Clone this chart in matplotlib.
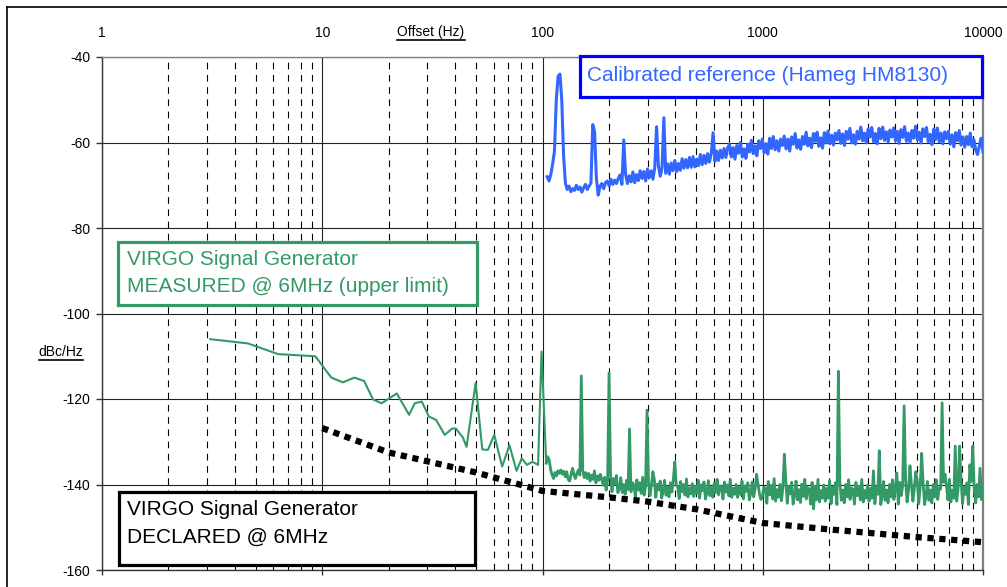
import numpy as np
import matplotlib
matplotlib.use("Agg")
import matplotlib.pyplot as plt
from matplotlib.lines import Line2D
from matplotlib.patches import Rectangle
from matplotlib.transforms import IdentityTransform

plt.rcParams['font.family'] = ['Liberation Sans', 'DejaVu Sans']

# ---- data ----
x_ticks = [1, 10, 100, 1000, 10000]
x_labels = ["1", "10", "100", "1000", "10000"]
y_ticks = [-160, -140, -120, -100, -80, -60, -40]
y_labels = ["-160", "-140", "-120", "-100", "-80", "-60", "-40"]

# calibrated reference (Hameg HM8130), 105 Hz .. 10 kHz on a log grid
blue_db = [
    -68.0, -69.0, -67.5, -65.0, -62.0, -50.0, -44.5, -44.0, -50.0, -63.0,
    -69.5, -71.0, -70.2, -71.5, -70.8, -71.2, -70.0, -71.0, -70.4, -71.6,
    -70.6, -69.8, -71.0, -70.2, -69.5, -55.8, -57.5, -68.5, -72.3, -70.2,
    -69.6, -70.8, -69.4, -69.0, -70.2, -68.6, -69.8, -68.8, -69.6, -68.4,
    -67.6, -69.8, -59.4, -67.4, -69.6, -67.8, -69.2, -66.9, -69.4, -67.5,
    -68.9, -66.6, -68.4, -66.8, -69.0, -66.2, -68.2, -66.6, -68.6, -65.9,
    -56.3, -65.4, -67.9, -66.0, -54.2, -67.2, -65.0, -67.4, -64.8, -66.6,
    -64.2, -66.8, -64.9, -66.5, -63.8, -66.0, -64.0, -65.9, -63.5, -65.8,
    -63.3, -65.7, -63.9, -65.4, -62.8, -65.2, -63.0, -64.9, -62.6, -64.6,
    -62.5, -57.7, -64.4, -62.0, -64.2, -61.8, -63.6, -61.4, -63.5, -61.2,
    -60.4, -63.4, -61.2, -63.9, -60.7, -62.5, -60.0, -63.4, -61.5, -63.7,
    -60.4, -62.2, -59.5, -62.6, -60.8, -63.1, -59.6, -61.4, -59.2, -62.4,
    -60.3, -62.7, -59.0, -61.4, -58.6, -61.7, -59.6, -62.0, -59.2, -60.7,
    -58.5, -61.5, -59.2, -62.0, -58.7, -60.4, -57.9, -61.3, -59.4, -61.6,
    -58.6, -60.4, -57.6, -60.8, -59.0, -61.2, -57.9, -59.7, -57.6, -60.9,
    -58.9, -61.3, -57.7, -60.1, -57.3, -60.3, -58.3, -60.6, -57.8, -59.4,
    -57.2, -60.2, -58.0, -60.7, -57.4, -59.2, -56.7, -60.1, -58.2, -60.4,
    -57.4, -59.2, -56.4, -59.6, -57.8, -60.1, -56.9, -58.7, -56.5, -59.8,
    -57.9, -60.3, -56.7, -59.1, -56.4, -59.5, -57.5, -59.9, -57.1, -58.7,
    -56.6, -59.6, -57.4, -60.2, -57.0, -58.8, -56.3, -59.7, -57.8, -60.0,
    -57.2, -59.0, -56.2, -59.4, -57.6, -60.1, -56.8, -58.6, -56.5, -59.8,
    -58.1, -60.5, -56.9, -59.3, -56.6, -59.8, -57.8, -60.3, -57.5, -59.1,
    -57.4, -60.4, -58.2, -61.0, -57.7, -59.6, -57.2, -60.6, -58.7, -61.1,
    -58.6, -60.5, -57.8, -61.0, -59.3, -61.7, -62.8, -60.8, -59.0, -62.2,
]

# VIRGO measured, low-frequency part (explicit points)
green_low_f = [3.1, 4.6, 6.3, 9.3, 11.0, 12.4, 14.0, 15.5, 17.0, 18.6, 21.8,
               24.8, 26.3, 28.3, 30.5, 32.9, 36.0, 38.9, 40.4, 43.5, 45.2,
               49.7, 53.3, 56.5, 60.4, 65.6, 70.8, 76.2, 80.5, 85.0, 90.0,
               95.5, 99.0]
green_low_db = [-106.0, -107.0, -109.5, -110.0, -115.0, -116.1, -115.0, -115.8,
                -120.1, -121.0, -118.7, -123.7, -121.0, -120.6, -124.1, -124.9,
                -128.4, -126.9, -126.9, -129.0, -131.2, -116.3, -131.8, -131.9,
                -128.4, -135.8, -130.8, -136.8, -133.9, -135.4, -134.7, -135.4,
                -108.9]

# VIRGO measured, 104 Hz .. 10 kHz on a log grid
green_db = [
    -135.0, -133.5, -134.2, -136.5, -137.8, -138.6, -137.2, -138.0, -136.8, -137.4,
    -136.6, -137.6, -136.9, -138.2, -137.0, -138.8, -139.2, -137.6, -136.2, -137.8,
    -138.6, -137.4, -136.6, -137.8, -114.6, -136.8, -138.4, -137.2, -138.6, -137.4,
    -139.2, -137.8, -138.8, -136.8, -139.6, -138.0, -139.0, -137.6, -138.8, -140.2,
    -138.3, -141.3, -138.9, -113.9, -137.5, -141.7, -138.6, -139.9, -137.9, -141.9,
    -141.1, -138.4, -141.9, -140.0, -142.3, -139.0, -141.2, -127.0, -141.7, -139.6,
    -140.1, -142.9, -138.9, -141.3, -139.6, -142.1, -138.3, -142.5, -140.4, -122.6,
    -139.6, -142.6, -140.2, -137.0, -138.8, -143.0, -139.9, -141.2, -139.2, -143.2,
    -141.7, -139.0, -142.5, -140.6, -142.9, -139.6, -141.8, -138.7, -134.7, -140.2,
    -140.5, -143.3, -139.3, -141.7, -140.0, -142.5, -138.7, -142.9, -140.8, -142.2,
    -139.8, -142.8, -140.4, -142.1, -139.0, -143.2, -140.1, -141.4, -139.4, -143.4,
    -141.8, -139.1, -142.6, -140.7, -143.0, -139.7, -141.9, -138.8, -142.4, -140.3,
    -140.6, -143.4, -139.4, -141.8, -140.1, -142.6, -138.8, -143.0, -140.9, -142.3,
    -140.0, -143.0, -140.6, -142.3, -139.2, -143.4, -140.3, -141.6, -139.6, -143.6,
    -142.1, -139.4, -142.9, -141.0, -137.6, -140.0, -142.2, -143.5, -142.7, -140.6,
    -140.9, -144.4, -139.3, -142.4, -140.2, -143.4, -138.6, -143.9, -141.2, -143.0,
    -140.0, -143.8, -140.8, -132.9, -139.0, -144.4, -140.5, -142.2, -139.5, -144.6,
    -142.6, -139.2, -143.6, -141.2, -144.2, -139.9, -142.8, -138.8, -143.4, -140.7,
    -141.1, -144.6, -139.5, -145.7, -140.4, -143.6, -138.8, -144.1, -141.4, -143.2,
    -140.1, -143.9, -140.9, -143.2, -139.1, -144.5, -140.6, -142.3, -139.6, -144.7,
    -113.5, -139.3, -143.7, -141.3, -144.3, -140.0, -142.9, -138.9, -143.5, -140.8,
    -141.1, -144.6, -139.5, -142.6, -140.4, -143.6, -138.8, -144.1, -141.4, -143.2,
    -140.1, -143.9, -140.9, -143.2, -136.8, -144.5, -140.6, -142.3, -132.1, -144.7,
    -142.7, -139.3, -143.7, -141.3, -144.3, -140.0, -142.9, -138.9, -143.5, -140.8,
    -137.3, -144.6, -139.5, -142.6, -140.4, -121.6, -138.8, -144.1, -141.4, -135.6,
    -140.1, -143.9, -140.9, -137.0, -139.1, -144.5, -140.6, -132.7, -139.6, -144.7,
    -142.7, -139.3, -143.7, -141.3, -144.3, -140.0, -142.9, -138.9, -143.5, -140.8,
    -141.1, -120.9, -139.5, -137.6, -140.4, -143.6, -138.8, -144.1, -141.4, -143.2,
    -131.0, -143.9, -140.9, -131.0, -139.1, -144.5, -140.6, -142.3, -139.6, -144.7,
    -135.4, -139.3, -131.0, -141.3, -144.3, -140.0, -142.9, -136.2, -143.5, -140.8,
]

# VIRGO declared
decl_f = [10, 20, 50, 100, 200, 300, 500, 1000, 2000, 5000, 10000]
decl_db = [-126.8, -132.5, -137.2, -141.5, -143.0, -144.0, -145.8, -149.0,
           -150.5, -152.3, -153.5]

blue_f = np.geomspace(105, 10000, len(blue_db))
green_f = np.geomspace(104, 10000, len(green_db))

# ---- figure ----
W, H = 1007, 587
fig = plt.figure(figsize=(W / 100, H / 100), dpi=100)


def fx(x):
    return x / W


def fy(y):
    return 1 - y / H


ax = fig.add_axes([fx(102), fy(570), fx(983) - fx(102), fy(57) - fy(570)])
ax.set_xscale('log')
ax.set_xlim(1, 10000)
ax.set_ylim(-160, -40)

ax.set_xticks(x_ticks, labels=x_labels)
ax.set_yticks(y_ticks, labels=y_labels)
ax.tick_params(axis='x', which='major', bottom=True, top=False, labelbottom=False,
               labeltop=True, direction='out', length=3.6, pad=8.6, labelsize=10,
               width=1, color='#333333')
ax.tick_params(axis='x', which='minor', bottom=False, top=False)
ax.tick_params(axis='y', direction='out', length=4.3, pad=4, labelsize=10,
               width=1, color='#333333')

ax.grid(which='major', axis='both', color='#222222', lw=0.8, zorder=0)
ax.grid(which='minor', axis='x', color='black', lw=0.8, dashes=(6, 5), zorder=0)
ax.set_axisbelow(True)

for side in ['left', 'bottom']:
    ax.spines[side].set_color('#333333')
    ax.spines[side].set_linewidth(1)
ax.spines['top'].set_color('#808080')
ax.spines['top'].set_linewidth(1)
ax.spines['right'].set_color('#808080')
ax.spines['right'].set_linewidth(1.6)

ax.plot(blue_f, blue_db, color='#3366FF', lw=2.2, zorder=3)
# thin low-frequency part, then the denser FFT part
ax.plot(green_low_f + [green_f[0]], green_low_db + [green_db[0]],
        color='#339966', lw=1.5, zorder=3)
ax.plot(green_f, green_db, color='#339966', lw=2.0, zorder=3)
ax.plot(decl_f, decl_db, color='black', lw=4.5, dashes=(1, 0.9),
        dash_capstyle='butt', zorder=4)

# outer frame
fig.add_artist(Line2D([fx(7), fx(7)], [fy(7), 0], color='black', lw=1.2))
fig.add_artist(Line2D([fx(7), 1], [fy(7), fy(7)], color='black', lw=1.2))


def box(x0, y0, x1, y1, ec):
    fig.add_artist(Rectangle((fx(x0), fy(y1)), fx(x1) - fx(x0), fy(y0) - fy(y1),
                             transform=fig.transFigure, facecolor='white',
                             edgecolor=ec, lw=2.3, zorder=5))


box(580, 56, 982, 97, '#0000FF')
fig.text(fx(587), fy(81), "Calibrated reference (Hameg HM8130)", color='#3366FF',
         fontsize=15, va='baseline', ha='left', zorder=6)

box(118, 242, 477, 305, '#339966')
fig.text(fx(127), fy(265), "VIRGO Signal Generator", color='#339966',
         fontsize=15, va='baseline', ha='left', zorder=6)
fig.text(fx(127), fy(292), "MEASURED @ 6MHz (upper limit)", color='#339966',
         fontsize=15, va='baseline', ha='left', zorder=6)

box(119, 492, 475, 565, 'black')
fig.text(fx(127), fy(515), "VIRGO Signal Generator", color='black',
         fontsize=15, va='baseline', ha='left', zorder=6)
fig.text(fx(127), fy(543), "DECLARED @ 6MHz", color='black',
         fontsize=15, va='baseline', ha='left', zorder=6)

# underlined axis titles
t1 = fig.text(fx(431), fy(32), "Offset (Hz)", fontsize=10, ha='center', va='center')
t2 = fig.text(fx(61), fy(352), "dBc/Hz", fontsize=10, ha='center', va='center')
renderer = fig.canvas.get_renderer()
for t in [t1, t2]:
    bb = t.get_window_extent(renderer=renderer)
    fig.add_artist(Line2D([bb.x0, bb.x1], [bb.y0 - 0.5, bb.y0 - 0.5],
                          transform=IdentityTransform(), color='black', lw=1.2))

fig.savefig('out.png', dpi=100)
